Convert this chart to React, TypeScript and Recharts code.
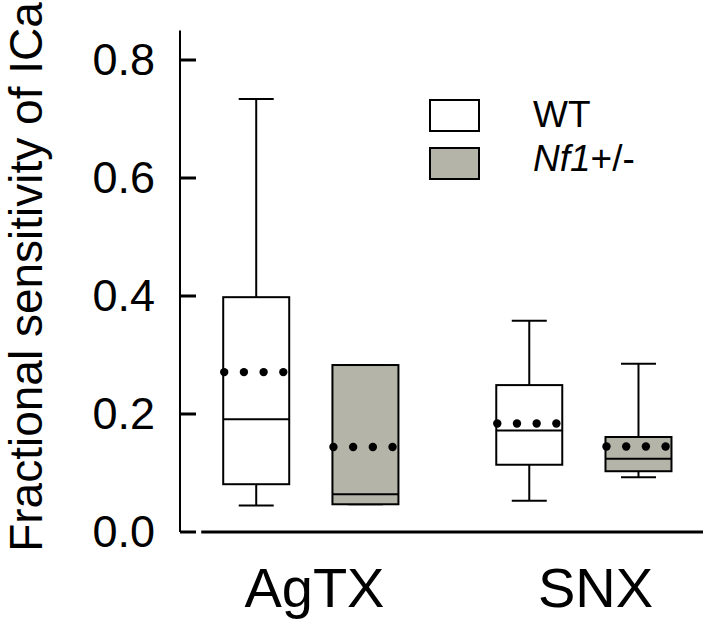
import React from 'react';
import { ComposedChart, Bar, XAxis, YAxis, ReferenceLine, Legend, Label } from 'recharts';

const categories = ['AgTX', 'SNX'];
const seriesNames = ['WT', 'Nf1+/-'];
const seriesFills = ['#ffffff', '#b4b4a8'];
const yTicks = [0, 0.2, 0.4, 0.6, 0.8];

const wtWhiskerLow = [0.045, 0.053];
const wtQ1 = [0.081, 0.114];
const wtMedian = [0.191, 0.172];
const wtMean = [0.271, 0.184];
const wtQ3 = [0.398, 0.249];
const wtWhiskerHigh = [0.734, 0.358];

const nfWhiskerLow = [0.047, 0.093];
const nfQ1 = [0.047, 0.103];
const nfMedian = [0.064, 0.124];
const nfMean = [0.144, 0.145];
const nfQ3 = [0.283, 0.161];
const nfWhiskerHigh = [0.283, 0.285];

const FONT = '"Liberation Sans", Arial, Helvetica, sans-serif';
const GROUP_OFFSET = 0.2;
const X_MIN = 0.5223;
const X_MAX = 2.4377;
const X_AXIS_START = 0.6;
const LABEL_NUDGE = [4, 12];

type Row = {
  x: number;
  range: [number, number];
  low: number;
  q1: number;
  median: number;
  mean: number;
  q3: number;
  high: number;
  series: number;
};

const rows: Row[] = [];
categories.forEach((_, c) => {
  const sets = [
    [wtWhiskerLow, wtQ1, wtMedian, wtMean, wtQ3, wtWhiskerHigh],
    [nfWhiskerLow, nfQ1, nfMedian, nfMean, nfQ3, nfWhiskerHigh],
  ];
  sets.forEach((s, si) => {
    rows.push({
      x: c + 1 + (si === 0 ? -GROUP_OFFSET : GROUP_OFFSET),
      range: [s[0][c], s[5][c]],
      low: s[0][c],
      q1: s[1][c],
      median: s[2][c],
      mean: s[3][c],
      q3: s[4][c],
      high: s[5][c],
      series: si,
    });
  });
});

const BoxShape = (props: any) => {
  const { x, y, width, height, payload } = props;
  if (!payload) return null;
  const top = Math.min(y, y + height);
  const bottom = Math.max(y, y + height);
  const { low, high, q1, q3, median, mean, series } = payload as Row;
  const toPx = (v: number) => bottom - ((v - low) / (high - low)) * (bottom - top);
  const cx = x + width / 2;
  const capHalf = 17.5;
  const pHigh = toPx(high);
  const pLow = toPx(low);
  const pQ1 = toPx(q1);
  const pQ3 = toPx(q3);
  const pMed = toPx(median);
  const pMean = toPx(mean);
  const dots = [0, 1, 2, 3].map((i) => x + 1 + i * 19.7);
  return (
    <g>
      <line x1={cx} x2={cx} y1={pHigh} y2={pQ3} stroke="#000" strokeWidth={2} />
      <line x1={cx} x2={cx} y1={pQ1} y2={pLow} stroke="#000" strokeWidth={2} />
      <line x1={cx - capHalf} x2={cx + capHalf} y1={pHigh} y2={pHigh} stroke="#000" strokeWidth={2} />
      <line x1={cx - capHalf} x2={cx + capHalf} y1={pLow} y2={pLow} stroke="#000" strokeWidth={2} />
      <rect x={x} y={pQ3} width={width} height={pQ1 - pQ3} fill={seriesFills[series]} stroke="#000" strokeWidth={2} />
      <line x1={x} x2={x + width} y1={pMed} y2={pMed} stroke="#000" strokeWidth={2} />
      {dots.map((dx, i) => (
        <circle key={i} cx={dx} cy={pMean} r={4.2} fill="#000" />
      ))}
    </g>
  );
};

const YTick = (props: any) => {
  const { x, y, payload } = props;
  return (
    <g>
      <line x1={x} x2={x + 16} y1={y} y2={y} stroke="#000" strokeWidth={3} />
      <text x={x - 25} y={y + 15} textAnchor="end" fontSize={45} fontFamily={FONT} fill="#000">
        {Number(payload.value).toFixed(1)}
      </text>
    </g>
  );
};

const XTick = (props: any) => {
  const { x, y, payload } = props;
  const idx = Math.round(payload.value) - 1;
  return (
    <text x={x + (LABEL_NUDGE[idx] || 0)} y={y + 75} textAnchor="middle" fontSize={56} fontFamily={FONT} fill="#000">
      {categories[idx]}
    </text>
  );
};

const renderLegend = () => (
  <svg width={240} height={100} style={{ display: 'block' }}>
    <rect x={10} y={10} width={49} height={31} fill={seriesFills[0]} stroke="#000" strokeWidth={2} />
    <rect x={10} y={58} width={49} height={31} fill={seriesFills[1]} stroke="#000" strokeWidth={2} />
    <text x={113} y={37} fontSize={37} fontFamily={FONT} fill="#000">
      {seriesNames[0]}
    </text>
    <text x={113} y={81} fontSize={37} fontFamily={FONT} fill="#000">
      <tspan fontStyle="italic">Nf1</tspan>
      <tspan>+/-</tspan>
    </text>
  </svg>
);

const renderYLabel = () => (
  <text
    transform="translate(42,277) rotate(-90)"
    textAnchor="middle"
    fontSize={46}
    fontFamily={FONT}
    fill="#000"
  >
    Fractional sensitivity of ICa
  </text>
);

export default function App() {
  return (
    <div style={{ position: 'absolute', left: 0, top: 0, width: 712, height: 626, background: '#fff' }}>
      <ComposedChart
        width={712}
        height={626}
        data={rows}
        margin={{ top: 30.5, right: 9, left: 0, bottom: 0 }}
      >
        <XAxis
          type="number"
          dataKey="x"
          domain={[X_MIN, X_MAX]}
          ticks={[1, 2]}
          allowDataOverflow
          axisLine={false}
          tickLine={false}
          tickSize={0}
          tickMargin={0}
          height={94}
          tick={<XTick />}
          interval={0}
        />
        <YAxis
          type="number"
          domain={[0, 0.85]}
          ticks={yTicks}
          allowDataOverflow
          width={180}
          axisLine={{ stroke: '#000', strokeWidth: 2 }}
          tickLine={false}
          tickSize={0}
          tickMargin={0}
          tick={<YTick />}
          interval={0}
        >
          <Label content={renderYLabel} />
        </YAxis>
        <ReferenceLine
          segment={[{ x: X_AXIS_START, y: 0 }, { x: X_MAX, y: 0 }]}
          stroke="#000"
          strokeWidth={3}
          ifOverflow="visible"
        />
        <Bar dataKey="range" barSize={66} shape={BoxShape} isAnimationActive={false} />
        <Legend
          content={renderLegend}
          layout="vertical"
          align="center"
          verticalAlign="middle"
          wrapperStyle={{ left: 420, top: 90, width: 240 }}
        />
      </ComposedChart>
    </div>
  );
}
